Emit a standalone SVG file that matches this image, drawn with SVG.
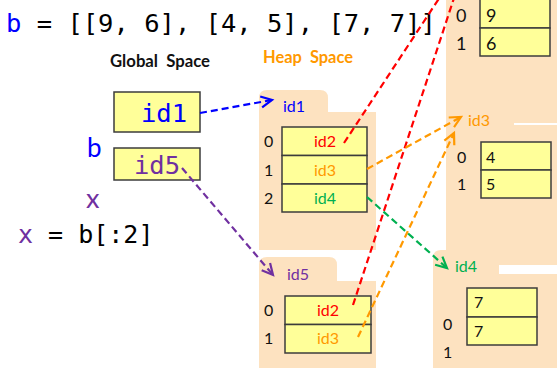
<svg xmlns="http://www.w3.org/2000/svg" width="557" height="368" viewBox="0 0 557 368">
  <style>
    .folder { fill: #FDE2C0; }
    .cell { fill: #FFFF99; stroke: #3C3C3C; stroke-width: 1.5; }
    .mono { font-family: "DejaVu Sans Mono", "Liberation Mono", monospace; }
    .sans { font-family: Lato, "Open Sans", "Liberation Sans", sans-serif; }
    .head-text { font-family: Lato, "Open Sans", "Liberation Sans", sans-serif; font-size: 16.5px; font-weight: bold; white-space: pre; }
    .idx { font-family: Lato, "Open Sans", "Liberation Sans", sans-serif; font-size: 16px; fill: #111; }
    .val { font-family: Lato, "Open Sans", "Liberation Sans", sans-serif; font-size: 16px; }
    .big { font-size: 18px; }
    .conn { fill: none; stroke-width: 2.2; stroke-dasharray: 7 4; }
    .head { fill: none; stroke-width: 2.2; stroke-linejoin: miter; }
  </style>
  <defs>
    <marker id="ah-blue" markerUnits="userSpaceOnUse" markerWidth="16" markerHeight="16" refX="12" refY="6" orient="auto" overflow="visible">
      <path class="head" d="M1,0.5 L12,6 L1,11.5" stroke="#0000FF"/>
    </marker>
    <marker id="ah-purple" markerUnits="userSpaceOnUse" markerWidth="16" markerHeight="16" refX="12" refY="6" orient="auto" overflow="visible">
      <path class="head" d="M1,0.5 L12,6 L1,11.5" stroke="#7030A0"/>
    </marker>
    <marker id="ah-orange" markerUnits="userSpaceOnUse" markerWidth="16" markerHeight="16" refX="12" refY="6" orient="auto" overflow="visible">
      <path class="head" d="M1,0.5 L12,6 L1,11.5" stroke="#FF9900"/>
    </marker>
    <marker id="ah-green" markerUnits="userSpaceOnUse" markerWidth="16" markerHeight="16" refX="12" refY="6" orient="auto" overflow="visible">
      <path class="head" d="M1,0.5 L12,6 L1,11.5" stroke="#00B050"/>
    </marker>
  </defs>

  <!-- code lines -->
  <g id="code">
    <text class="mono" x="6" y="32" font-size="25.5" fill="#000"><tspan fill="#0000FF">b</tspan> = [[9, 6], [4, 5], [7, 7]]</text>
    <text class="mono" x="18" y="243" font-size="25" fill="#000"><tspan fill="#7030A0">x</tspan> = b[:2]</text>
  </g>

  <!-- section headings -->
  <text class="head-text" x="110" y="67" fill="#111" textLength="100" lengthAdjust="spacingAndGlyphs" xml:space="preserve">Global  Space</text>
  <text class="head-text" x="263" y="63" fill="#FF9900" textLength="90" lengthAdjust="spacingAndGlyphs" xml:space="preserve">Heap  Space</text>

  <!-- global variables -->
  <g id="var-b">
    <text class="sans" x="87" y="157" font-size="26" fill="#0000FF">b</text>
    <rect class="cell" x="114" y="92" width="86" height="40"/>
    <text class="mono" x="141" y="122" font-size="25.5" fill="#0000FF">id1</text>
  </g>
  <g id="var-x">
    <text class="sans" x="86" y="208" font-size="27" fill="#7030A0">x</text>
    <rect class="cell" x="114" y="148" width="86" height="32"/>
    <text class="mono" x="134" y="174" font-size="25.5" fill="#7030A0">id5</text>
  </g>

  <!-- heap folder id2 (tab above the view) -->
  <g id="id2">
    <rect class="folder" x="446" y="-5" width="115" height="128"/>
    <rect class="cell" x="480" y="-1" width="70" height="29"/>
    <rect class="cell" x="480" y="28" width="70" height="28"/>
    <text class="idx big" x="456" y="22">0</text>
    <text class="idx big" x="456" y="50">1</text>
    <text class="val big" x="486" y="22" fill="#111">9</text>
    <text class="val big" x="486" y="50" fill="#111">6</text>
  </g>

  <!-- heap folder id3 -->
  <g id="id3">
    <path class="folder" d="M446,265 V108 Q446,100 454,100 H506 Q514,100 514,108 V125 H561 V265 Z"/>
    <text class="sans" x="468" y="126" font-size="16" fill="#FF9900">id3</text>
    <rect class="cell" x="481" y="142" width="70" height="28"/>
    <rect class="cell" x="481" y="170" width="70" height="28"/>
    <text class="idx" x="457" y="163">0</text>
    <text class="idx" x="457" y="190">1</text>
    <text class="val" x="486" y="163" fill="#111">4</text>
    <text class="val" x="486" y="190" fill="#111">5</text>
  </g>

  <!-- heap folder id4 -->
  <g id="id4">
    <path class="folder" d="M433,372 V258 Q433,250 441,250 H491 Q499,250 499,258 V274 H561 V372 Z"/>
    <text class="sans" x="455" y="272" font-size="16" fill="#00B050">id4</text>
    <rect class="cell" x="467" y="288" width="70" height="29"/>
    <rect class="cell" x="467" y="317" width="70" height="28"/>
    <text class="idx" x="443" y="330">0</text>
    <text class="idx" x="443" y="358">1</text>
    <text class="val" x="474" y="308" fill="#111">7</text>
    <text class="val" x="474" y="337" fill="#111">7</text>
  </g>

  <!-- heap folder id1 -->
  <g id="id1">
    <path class="folder" d="M259,250 V98 Q259,90 267,90 H320 Q328,90 328,98 V112 H376 V250 Z"/>
    <text class="sans" x="283" y="112" font-size="16" fill="#0000FF">id1</text>
    <rect class="cell" x="282" y="127" width="85" height="28.5"/>
    <rect class="cell" x="282" y="155.5" width="85" height="28.5"/>
    <rect class="cell" x="282" y="184" width="85" height="28"/>
    <text class="idx" x="264" y="147">0</text>
    <text class="idx" x="264" y="176">1</text>
    <text class="idx" x="264" y="204">2</text>
    <text class="val" x="325" y="147" text-anchor="middle" fill="#FF0000">id2</text>
    <text class="val" x="325" y="176" text-anchor="middle" fill="#FF9900">id3</text>
    <text class="val" x="325" y="204" text-anchor="middle" fill="#00B050">id4</text>
  </g>

  <!-- heap folder id5 -->
  <g id="id5">
    <path class="folder" d="M259,372 V265 Q259,257 267,257 H329 Q337,257 337,265 V281 H376 V372 Z"/>
    <text class="sans" x="287" y="280" font-size="16" fill="#7030A0">id5</text>
    <rect class="cell" x="285" y="296" width="86" height="28.5"/>
    <rect class="cell" x="285" y="324.5" width="86" height="28.5"/>
    <text class="idx" x="264" y="316">0</text>
    <text class="idx" x="264" y="344">1</text>
    <text class="val" x="328" y="316" text-anchor="middle" fill="#FF0000">id2</text>
    <text class="val" x="328" y="344" text-anchor="middle" fill="#FF9900">id3</text>
  </g>

  <!-- references -->
  <g id="connectors">
    <path class="conn" stroke="#0000FF" d="M200,113 L272,100" marker-end="url(#ah-blue)"/>
    <path class="conn" stroke="#7030A0" d="M182,168 L273,275" marker-end="url(#ah-purple)"/>
    <path class="conn" stroke="#FF0000" d="M344,143 L440,-3"/>
    <path class="conn" stroke="#FF0000" d="M353,305 L455,-5"/>
    <path class="conn" stroke="#FF9900" d="M367,169 L461,117" marker-end="url(#ah-orange)"/>
    <path class="conn" stroke="#FF9900" d="M358,337 L454,133" marker-end="url(#ah-orange)"/>
    <path class="conn" stroke="#00B050" d="M367,197 L447,268" marker-end="url(#ah-green)"/>
  </g>
</svg>
